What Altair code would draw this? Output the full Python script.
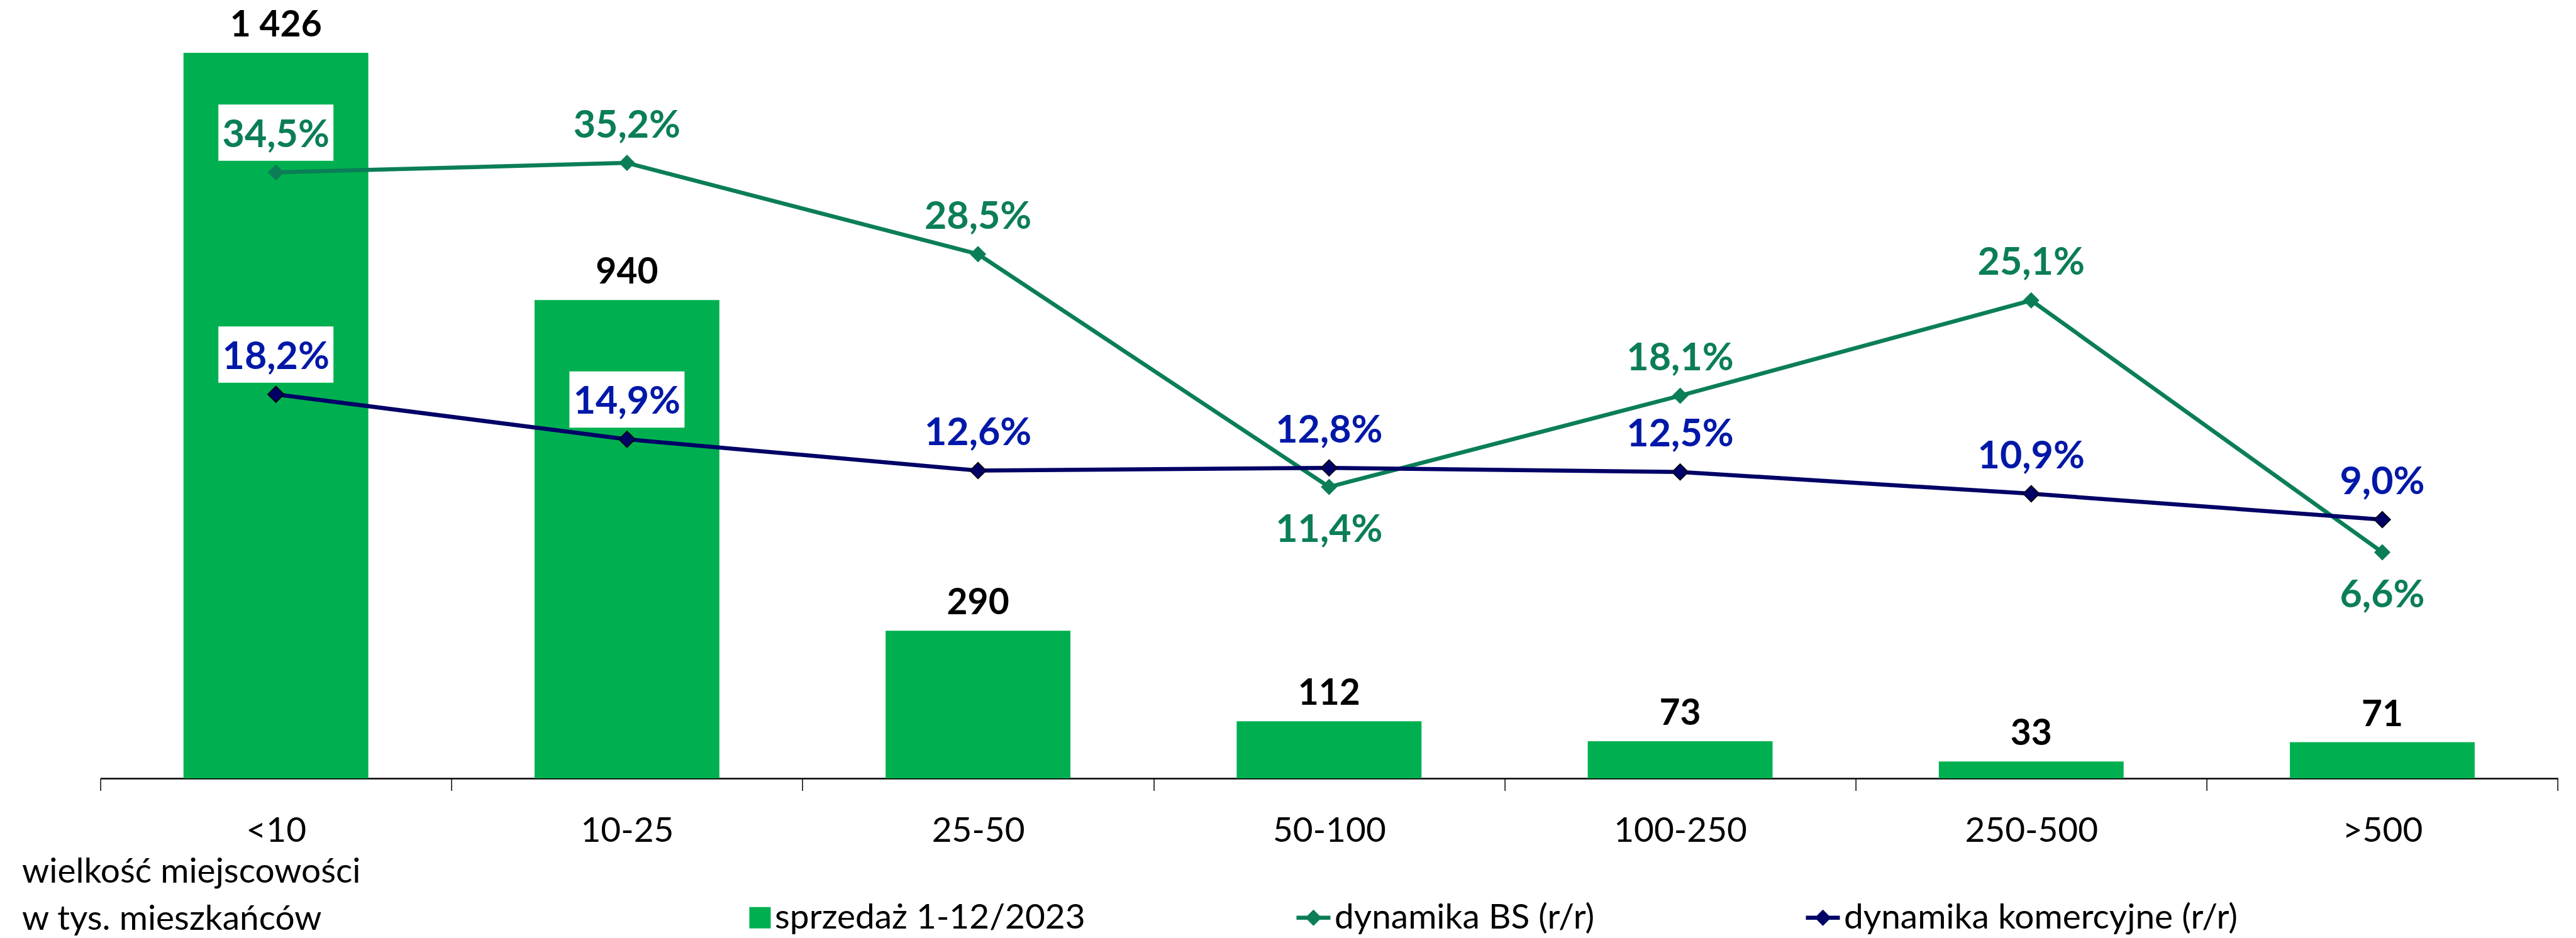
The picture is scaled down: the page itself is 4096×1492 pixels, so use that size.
import altair as alt
import pandas as pd

# ---------------- data ----------------
categories = ["<10", "10-25", "25-50", "50-100", "100-250", "250-500", ">500"]
sales = [1426, 940, 290, 112, 73, 33, 71]
bs_growth = [34.5, 35.2, 28.5, 11.4, 18.1, 25.1, 6.6]
com_growth = [18.2, 14.9, 12.6, 12.8, 12.5, 10.9, 9.0]

series_sales = "sprzedaż 1-12/2023"
series_bs = "dynamika BS (r/r)"
series_com = "dynamika komercyjne (r/r)"
axis_title = ["wielkość miejscowości", "w tys. mieszkańców"]

# ---------------- styling ----------------
FONT = "Lato"
C_BAR = "#00B050"
C_BS = "#0B7E57"
C_COM_LINE = "#000066"
C_COM_TEXT = "#0018A8"

PLOT_W = 3907.5
PLOT_H = 1228
Y1_MAX = 1517.3          # primary axis (hidden)
Y2_DOMAIN = [-10, 46.70]  # secondary axis (hidden), in %


def fmt_int(v):
    return f"{v:,}".replace(",", " ")


def fmt_pct(v):
    return f"{v:.1f}%".replace(".", ",")


bar_df = pd.DataFrame({"cat": categories, "sales": sales,
                       "label": [fmt_int(v) for v in sales]})

rows = []
for c, b, k in zip(categories, bs_growth, com_growth):
    rows.append({"cat": c, "series": series_bs, "value": b, "label": fmt_pct(b),
                 "pos": "below" if b < k else "above"})
    rows.append({"cat": c, "series": series_com, "value": k, "label": fmt_pct(k),
                 "pos": "above"})
line_df = pd.DataFrame(rows)

legend_df = pd.DataFrame({"series": [series_sales, series_bs, series_com],
                          "cat": [categories[0]] * 3, "value": [0, 0, 0]})

x_enc = alt.X(
    "cat:N",
    sort=categories,
    scale=alt.Scale(domain=categories, paddingInner=0, paddingOuter=0),
    axis=alt.Axis(
        title=axis_title, titleX=-125, titleY=166, titleAlign="left",
        titleAnchor="start", titleBaseline="alphabetic", titleFont=FONT,
        titleFontSize=55, titleFontWeight="normal", titleColor="black",
        titleLineHeight=75,
        labelAngle=0, labelFont=FONT, labelFontSize=55, labelColor="black",
        labelBaseline="alphabetic", labelPadding=81, labelLimit=1000,
        tickSize=19.4, tickBand="extent", tickColor="black", tickWidth=1.5,
        domainColor="black", domainWidth=2.5, grid=False,
    ),
)

y1 = alt.Y("sales:Q", scale=alt.Scale(domain=[0, Y1_MAX], nice=False, zero=True), axis=None)
y2 = alt.Y("value:Q", scale=alt.Scale(domain=Y2_DOMAIN, nice=False, zero=False), axis=None)

bars = alt.Chart(bar_df).mark_bar(color=C_BAR, width=alt.RelativeBandSize(0.5265)).encode(
    x=x_enc, y=y1)

bar_labels = alt.Chart(bar_df).mark_text(
    font=FONT, fontSize=57, fontWeight="bold", color="black",
    baseline="alphabetic", dy=-26).encode(x=x_enc, y=y1, text="label:N")

# white boxes behind percentage labels
BOX_W = 183
box_path = "M-1,-0.489L1,-0.489L1,0.489L-1,0.489Z"


def sec():
    return alt.Chart(line_df)


box_above = sec().transform_filter(alt.datum.pos == "above").mark_point(
    shape=box_path, size=BOX_W ** 2, filled=True, color="white", opacity=1,
    strokeWidth=0, yOffset=-63.3).encode(x=x_enc, y=y2)
box_below = sec().transform_filter(alt.datum.pos == "below").mark_point(
    shape=box_path, size=BOX_W ** 2, filled=True, color="white", opacity=1,
    strokeWidth=0, yOffset=65.5).encode(x=x_enc, y=y2)

line_bs = sec().transform_filter(alt.datum.series == series_bs).mark_line(
    color=C_BS, strokeWidth=6.5).encode(x=x_enc, y=y2)
line_com = sec().transform_filter(alt.datum.series == series_com).mark_line(
    color=C_COM_LINE, strokeWidth=6.5).encode(x=x_enc, y=y2)

pts_bs = sec().transform_filter(alt.datum.series == series_bs).mark_point(
    shape="diamond", filled=True, size=676, color=C_BS, opacity=1,
    strokeWidth=0).encode(x=x_enc, y=y2)
pts_com = sec().transform_filter(alt.datum.series == series_com).mark_point(
    shape="diamond", filled=True, size=676, fill=C_COM_LINE, stroke="black",
    strokeWidth=1.5, opacity=1).encode(x=x_enc, y=y2)


def pct_labels(series, pos, color, dy):
    return sec().transform_filter(
        (alt.datum.series == series) & (alt.datum.pos == pos)
    ).mark_text(font=FONT, fontSize=61, fontWeight="bold", color=color,
                baseline="alphabetic", dy=dy).encode(x=x_enc, y=y2, text="label:N")


lab_bs_above = pct_labels(series_bs, "above", C_BS, -40.5)
lab_bs_below = pct_labels(series_bs, "below", C_BS, 87.8)
lab_com_above = pct_labels(series_com, "above", C_COM_TEXT, -40.5)

# legend (symbols only in the legend)
sq_path = "M-0.26,-0.63L1,-0.63L1,0.63L-0.26,0.63Z"
ld_path = ("M-1,-0.12L-0.36,-0.12L0,-0.4815L0.36,-0.12L1,-0.12L1,0.12"
           "L0.36,0.12L0,0.4815L-0.36,0.12L-1,0.12Z")
leg = alt.Legend(
    orient="none", legendX=1011.4, legendY=1422, direction="horizontal",
    title=None, labelFont=FONT, labelFontSize=55, labelColor="black",
    labelLimit=1000, symbolSize=54 ** 2, symbolOpacity=1, symbolStrokeWidth=0,
    labelOffset=6, columnPadding=335, padding=0,
)
series_domain = [series_sales, series_bs, series_com]
legend_layer = alt.Chart(legend_df).mark_point(filled=True, opacity=0).encode(
    x=x_enc,
    y=y2,
    color=alt.Color("series:N", scale=alt.Scale(domain=series_domain,
                                                range=[C_BAR, C_BS, C_COM_LINE]),
                    legend=leg),
    shape=alt.Shape("series:N", scale=alt.Scale(domain=series_domain,
                                                range=[sq_path, ld_path, ld_path]),
                    legend=leg),
)

chart = alt.layer(
    bars, box_above, box_below, line_bs, line_com, pts_bs, pts_com,
    lab_bs_above, lab_bs_below, lab_com_above, bar_labels, legend_layer,
).resolve_scale(y="independent").properties(
    width=PLOT_W, height=PLOT_H,
    padding={"left": 151.6, "top": 2, "right": 20, "bottom": 254},
    autosize=alt.AutoSizeParams(type="none"),
    background="white",
).configure(font=FONT).configure_view(stroke=None)

chart.save("out.html", embed_options={"renderer": "svg", "actions": False})
